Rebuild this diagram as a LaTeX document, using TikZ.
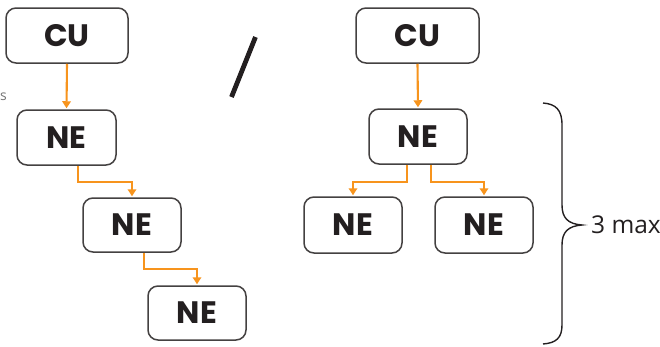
\documentclass[tikz,border=0pt]{standalone}
\usepackage{fontspec}
\setmainfont{Open Sans}
\newfontfamily\boxfont{Poppins}
\usetikzlibrary{arrows.meta}
\definecolor{oran}{HTML}{F7941D}
\definecolor{ink}{HTML}{231F20}
\tikzset{
  unitbox/.style={draw=ink!85, line width=1.5pt, rounded corners=10pt, fill=white,
    inner sep=0pt, font=\boxfont\bfseries\fontsize{31}{34}\selectfont, text=ink},
  conn/.style={draw=oran, line width=2.1pt, -{Triangle[width=8.5pt,length=7pt]}, shorten >=1pt}
}
\begin{document}
\begin{tikzpicture}[x=1pt,y=-1pt]
\useasboundingbox (0,0) rectangle (660,346);
% left chain
\node[unitbox, minimum width=122pt, minimum height=55pt] (cu1) at (67,35.5) {CU};
\node[unitbox, minimum width=99pt, minimum height=55pt] (ne1) at (66.5,137.5) {NE};
\node[unitbox, minimum width=98pt, minimum height=54pt] (ne2) at (132,225) {NE};
\node[unitbox, minimum width=98pt, minimum height=54pt] (ne3) at (197,313) {NE};
% right tree
\node[unitbox, minimum width=123pt, minimum height=55pt] (cu2) at (417.5,35.5) {CU};
\node[unitbox, minimum width=98pt, minimum height=55pt] (ne4) at (418,136.5) {NE};
\node[unitbox, minimum width=98pt, minimum height=56pt] (ne5) at (353,225) {NE};
\node[unitbox, minimum width=98pt, minimum height=56pt] (ne6) at (484,225) {NE};
% connectors
\draw[conn] (cu1.south) -- (ne1.north);
\draw[conn] ([xshift=11.5pt]ne1.south) -- ++(0,16) -| (ne2.north);
\draw[conn] ([xshift=12pt]ne2.south) -- ++(0,16) -| (ne3.north);
\draw[conn] (cu2.south) -- (ne4.north);
\draw[conn] ([xshift=-11pt]ne4.south) -- ++(0,17) -| (ne5.north);
\draw[conn] ([xshift=13pt]ne4.south) -- ++(0,17) -| (ne6.north);
% slash
\draw[ink, line width=4.8pt] (255.5,37) -- (231.5,97);
% cut text at left
\node[anchor=east, inner sep=0pt, text=black!55, font=\fontsize{14}{16}\selectfont] (s) at (7,97) {s};
% brace
\draw[ink, line width=1.4pt] (543,103) .. controls (556,104) and (562,110) .. (562,125)
  -- (562,205) .. controls (562,218) and (568,224) .. (582,225)
  .. controls (568,226) and (562,232) .. (562,245)
  -- (562,325) .. controls (562,338) and (556,343) .. (543,344);
\node[anchor=west, inner sep=0pt, text=ink, font=\fontsize{24.5}{28}\selectfont] (lbl) at (591,225) {3 max};
\end{tikzpicture}
\end{document}
